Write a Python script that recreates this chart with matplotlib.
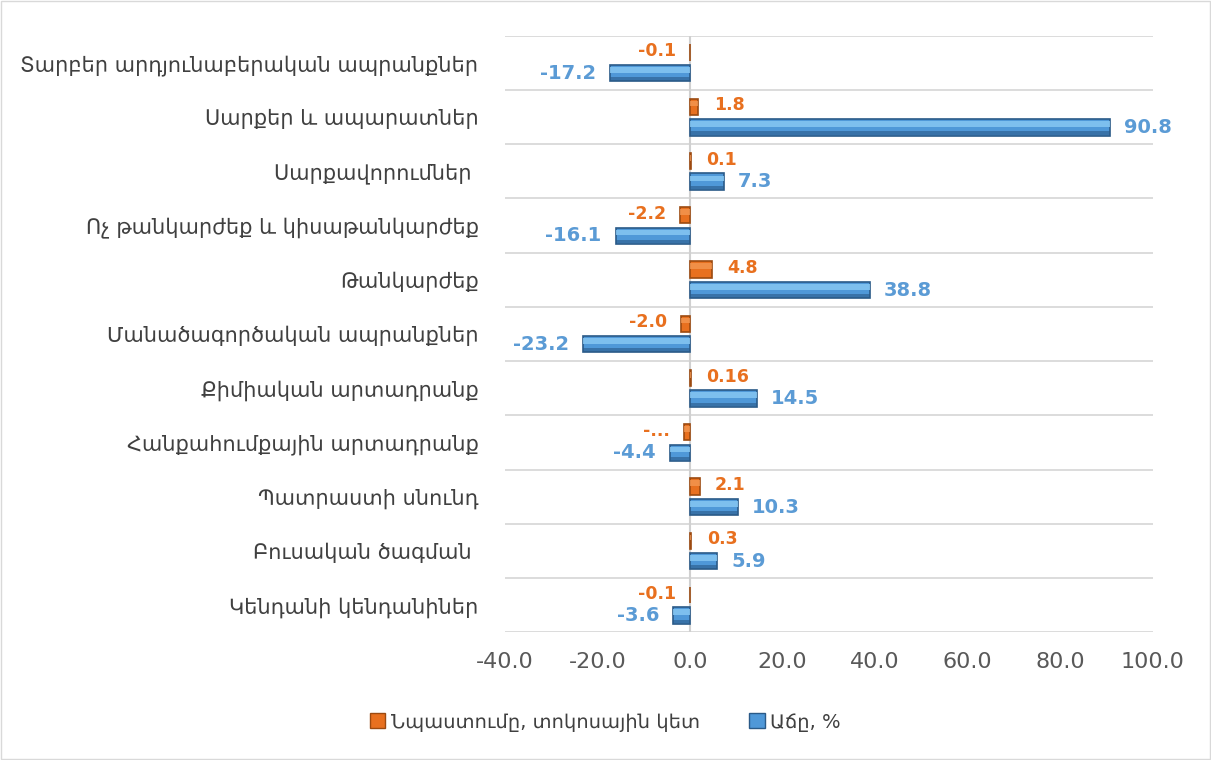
import matplotlib
matplotlib.use("Agg")
import matplotlib.pyplot as plt
import numpy as np
from matplotlib.patches import Patch

categories = [
    "Տարբեր արդյունաբերական ապրանքներ",
    "Սարքեր և ապարատներ",
    "Սարքավորումներ ",
    "Ոչ թանկարժեք և կիսաթանկարժեք",
    "Թանկարժեք",
    "Մանածագործական ապրանքներ",
    "Քիմիական արտադրանք",
    "Հանքահումքային արտադրանք",
    "Պատրաստի սնունդ",
    "Բուսական ծագման ",
    "Կենդանի կենդանիներ",
]
contribution = [-0.1, 1.8, 0.1, -2.2, 4.8, -2.0, 0.16, -1.4, 2.1, 0.3, -0.1]
contribution_labels = ["-0.1", "1.8", "0.1", "-2.2", "4.8", "-2.0", "0.16", "-...", "2.1", "0.3", "-0.1"]
growth = [-17.2, 90.8, 7.3, -16.1, 38.8, -23.2, 14.5, -4.4, 10.3, 5.9, -3.6]
growth_labels = ["-17.2", "90.8", "7.3", "-16.1", "38.8", "-23.2", "14.5", "-4.4", "10.3", "5.9", "-3.6"]
xticks = [-40, -20, 0, 20, 40, 60, 80, 100]
legend_names = ["Նպաստումը, տոկոսային կետ", "Աճը, %"]

plt.rcParams['font.family'] = ['DejaVu Sans']

orange = "#E8701F"
orange_dark = "#9C4A10"
orange_light = "#F59A55"
blue = "#4F98D8"
blue_dark = "#2A5A88"
blue_light = "#86C6F2"

fig = plt.figure(figsize=(12.11, 7.6), dpi=100)
ax = fig.add_axes([0.417, 0.168, 0.535, 0.785])

y = np.arange(len(categories))
off = 0.19
h = 0.3

# main bars
ax.barh(y - off, contribution, height=h, color=orange, edgecolor=orange_dark, linewidth=1.2, zorder=3)
ax.barh(y + off, growth, height=h, color=blue, edgecolor=blue_dark, linewidth=1.2, zorder=3)
# bevel: light upper part, dark lower edge
ax.barh(y - off - h * 0.2, contribution, height=h * 0.35, color=orange_light, linewidth=0, zorder=4, alpha=0.75)
ax.barh(y + off - h * 0.2, growth, height=h * 0.35, color=blue_light, linewidth=0, zorder=4, alpha=0.85)
ax.barh(y + off + h * 0.36, growth, height=h * 0.22, color=blue_dark, linewidth=0, zorder=4, alpha=0.6)

for i in range(len(categories)):
    v = contribution[i]
    ax.annotate(contribution_labels[i], (v, y[i] - off), xytext=(11 if v >= 0 else -10, 1),
                textcoords="offset points", ha="left" if v >= 0 else "right", va="center",
                color=orange, fontsize=12.5, fontweight="bold", zorder=5)
    v = growth[i]
    ax.annotate(growth_labels[i], (v, y[i] + off), xytext=(10 if v >= 0 else -10, 0),
                textcoords="offset points", ha="left" if v >= 0 else "right", va="center",
                color="#5B9BD5", fontsize=14, fontweight="bold", zorder=5)

ax.set_xlim(-40, 100)
ax.set_ylim(len(categories) - 0.5, -0.5)
ax.set_xticks(xticks)
ax.set_xticklabels([f"{t:.1f}" for t in xticks], fontsize=16, color="#595959")
ax.set_yticks(y)
ax.set_yticklabels(categories, fontsize=15, color="#404040")
ax.tick_params(axis="both", length=0)
ax.tick_params(axis="y", pad=19)
ax.tick_params(axis="x", pad=14)

ax.set_yticks(np.arange(-0.5, len(categories)), minor=True)
ax.tick_params(axis="y", which="minor", length=0)
ax.grid(True, axis="y", which="minor", color="#D9D9D9", linewidth=1.3, zorder=0)
ax.axvline(0, color="#D0D0D0", linewidth=1.5, zorder=2)

for s in ax.spines.values():
    s.set_visible(False)

handles = [Patch(facecolor=orange, edgecolor=orange_dark), Patch(facecolor=blue, edgecolor=blue_dark)]
fig.legend(handles, legend_names, loc="center", bbox_to_anchor=(0.5, 0.05), ncol=2, frameon=False,
           fontsize=14, handlelength=0.8, handleheight=0.8, handletextpad=0.3, columnspacing=2.5,
           labelcolor="#404040")

fig.patches.append(plt.Rectangle((0.001, 0.001), 0.998, 0.998, transform=fig.transFigure,
                                 fill=False, edgecolor="#D9D9D9", linewidth=1))

fig.savefig("out.png", dpi=100)
